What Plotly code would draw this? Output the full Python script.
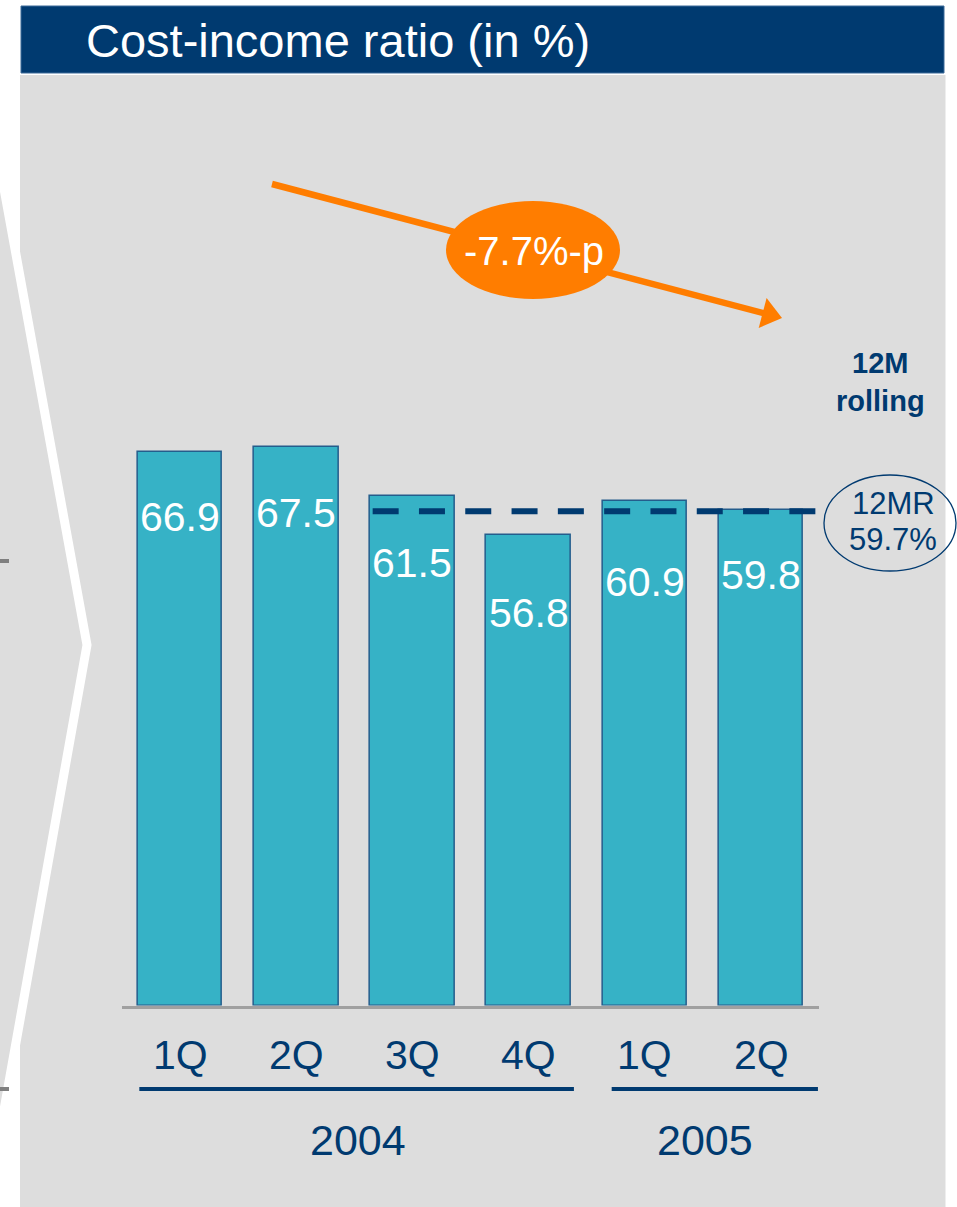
import plotly.graph_objects as go

# ---- data -------------------------------------------------------------
quarters = ["1Q", "2Q", "3Q", "4Q", "1Q", "2Q"]
years = ["2004", "2005"]
year_of_quarter = ["2004", "2004", "2004", "2004", "2005", "2005"]
cost_income = [66.9, 67.5, 61.5, 56.8, 60.9, 59.8]
rolling_12m = 59.7
change_pp = -7.7

# ---- styling ----------------------------------------------------------
W, H = 957, 1207
NAVY = "#003a70"
TEAL = "#36b2c6"
BAR_EDGE = "#245d8c"
ORANGE = "#ff7d00"
PANEL = "#dddddd"
FONT = "Liberation Sans, Arial, sans-serif"

# vertical scale of the bar area
Y_BOTTOM_PX, Y_TOP_PX, PX_PER_UNIT = 1005.5, 75, 8.28
# horizontal layout of the bar slots
X_LEFT_PX, X_RIGHT_PX = 121.9, 819.1
# per-bar distance (px) from bar top to the centre of its value label
label_drop_px = [65, 66.5, 66.3, 77.7, 80.8, 64.7]
# centre of each year caption, in bar-slot units
year_centre = {"2004": 1.53, "2005": 4.52}


def px(x):
    return x / W


def py(y):
    return 1 - y / H


xs = list(range(len(cost_income)))

fig = go.Figure()
fig.add_trace(go.Bar(
    x=xs, y=cost_income, width=0.727,
    marker=dict(color=TEAL, line=dict(color=BAR_EDGE, width=1.5)),
    hoverinfo="skip",
))

shapes = []
# grey panel and title bar
shapes.append(dict(type="rect", xref="paper", yref="paper", layer="below",
                   x0=px(20), x1=px(945.5), y0=py(1207), y1=py(75),
                   fillcolor=PANEL, line=dict(width=0)))
shapes.append(dict(type="rect", xref="paper", yref="paper", layer="below",
                   x0=px(21), x1=px(944), y0=py(73), y1=py(6),
                   fillcolor=NAVY, line=dict(color="#3d6b99", width=1)))


def path_px(points, close=False):
    d = "M " + " L ".join(f"{px(x)},{py(y)}" for x, y in points)
    return d + (" Z" if close else "")


# chevron from the neighbouring panel on the left
shapes.append(dict(type="path", xref="paper", yref="paper", layer="below",
                   path=path_px([(-5, 139), (87, 645), (-5, 1160)], close=True),
                   fillcolor=PANEL, line=dict(width=0)))
shapes.append(dict(type="path", xref="paper", yref="paper", layer="below",
                   path=path_px([(-5, 139), (87, 645), (-5, 1160)]),
                   line=dict(color="white", width=9)))
for ty in (561, 1089):
    shapes.append(dict(type="line", xref="paper", yref="paper", layer="below",
                       x0=px(0), x1=px(9), y0=py(ty), y1=py(ty),
                       line=dict(color="#7f7f7f", width=4)))

# 12-month rolling reference line
shapes.append(dict(type="line", xref="x", yref="y", layer="above",
                   x0=1.658, x1=5.47, y0=rolling_12m, y1=rolling_12m,
                   line=dict(color=NAVY, width=6, dash="26px,20.3px")))

# year group underlines
shapes.append(dict(type="line", xref="x", yref="paper",
                   x0=-0.35, x1=3.39, y0=py(1089), y1=py(1089),
                   line=dict(color=NAVY, width=4)))
shapes.append(dict(type="line", xref="x", yref="paper",
                   x0=3.715, x1=5.49, y0=py(1089), y1=py(1089),
                   line=dict(color=NAVY, width=4)))

# trend arrow
tail, tip = (272, 184), (782, 318)
dx, dy = tip[0] - tail[0], tip[1] - tail[1]
ln = (dx ** 2 + dy ** 2) ** 0.5
ux, uy = dx / ln, dy / ln
nx, ny = -uy, ux
base = (tip[0] - 20 * ux, tip[1] - 20 * uy)
shapes.append(dict(type="line", xref="paper", yref="paper",
                   x0=px(tail[0]), y0=py(tail[1]),
                   x1=px(base[0] + 2 * ux), y1=py(base[1] + 2 * uy),
                   line=dict(color=ORANGE, width=6.5)))
shapes.append(dict(type="path", xref="paper", yref="paper",
                   path=path_px([tip,
                                 (base[0] + 15.5 * nx, base[1] + 15.5 * ny),
                                 (base[0] - 15.5 * nx, base[1] - 15.5 * ny)],
                                close=True),
                   fillcolor=ORANGE, line=dict(width=0)))
shapes.append(dict(type="circle", xref="paper", yref="paper",
                   x0=px(533 - 87), x1=px(533 + 87), y0=py(250 + 49), y1=py(250 - 49),
                   fillcolor=ORANGE, line=dict(width=0)))

# 12MR ellipse
shapes.append(dict(type="circle", xref="paper", yref="paper",
                   x0=px(890 - 66), x1=px(890 + 66), y0=py(523 + 48), y1=py(523 - 48),
                   line=dict(color=NAVY, width=1.3)))

annotations = []


def note(text, x, y, size, color, xref="paper", yref="paper", bold=False,
         xanchor="center", yshift=0):
    annotations.append(dict(
        text=f"<b>{text}</b>" if bold else text,
        x=x, y=y, xref=xref, yref=yref, showarrow=False,
        xanchor=xanchor, yanchor="middle", yshift=yshift,
        font=dict(family=FONT, size=size, color=color),
    ))


note("Cost-income ratio (in %)", px(84), py(40), 47, "white", xanchor="left")

for i, v in enumerate(cost_income):
    note(f"{v:.1f}", i, v, 41, "white", xref="x", yref="y", yshift=-label_drop_px[i])
    note(quarters[i], i, py(1055), 41, NAVY, xref="x")

for yr in years:
    note(yr, year_centre[yr], py(1140), 43, NAVY, xref="x")

note(f"{change_pp}%-p", px(534), py(251), 40, "white")
note("12M<br>rolling", px(880), py(382), 29, NAVY, bold=True)
note("12MR", px(893), py(503), 31, NAVY)
note(f"{rolling_12m}%", px(893), py(539), 31, NAVY)

fig.update_layout(
    width=W, height=H, autosize=False,
    margin=dict(l=0, r=0, t=0, b=0),
    paper_bgcolor="white", plot_bgcolor="rgba(0,0,0,0)",
    showlegend=False, bargap=0,
    shapes=shapes, annotations=annotations,
    xaxis=dict(domain=[px(X_LEFT_PX), px(X_RIGHT_PX)], range=[-0.5, 5.5],
               showgrid=False, zeroline=False, showticklabels=False, ticks="",
               showline=True, linecolor="#a0a0a0", linewidth=3, fixedrange=True),
    yaxis=dict(domain=[py(Y_BOTTOM_PX), py(Y_TOP_PX)],
               range=[0, (Y_BOTTOM_PX - Y_TOP_PX) / PX_PER_UNIT],
               showgrid=False, zeroline=False, showticklabels=False, ticks="",
               showline=False, fixedrange=True),
)

fig.write_html("out.html")
